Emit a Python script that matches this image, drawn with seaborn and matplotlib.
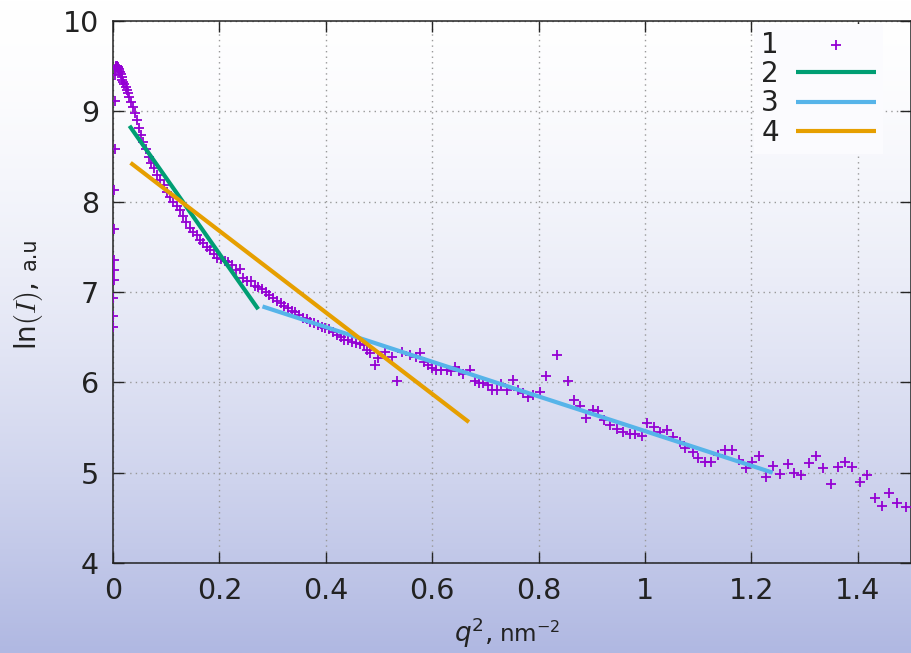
import numpy as np
import pandas as pd
import matplotlib
matplotlib.use("Agg")
import matplotlib.pyplot as plt
import seaborn as sns

# measured scattering curve (series 1)
q2 = [0.0003, 0.0006, 0.0009, 0.0012, 0.0015, 0.0018, 0.0022, 0.0026, 0.0030, 0.0035,
      0.0040, 0.0046, 0.0053, 0.0060, 0.0068, 0.0077, 0.0086, 0.0096, 0.0107, 0.0119,
      0.0132, 0.0146, 0.0161, 0.0177, 0.0195, 0.0215, 0.0236, 0.026, 0.0285, 0.031,
      0.034, 0.037, 0.041, 0.045, 0.049, 0.053, 0.057, 0.062, 0.067, 0.072,
      0.077, 0.083, 0.089, 0.095, 0.101, 0.107, 0.113, 0.120, 0.126, 0.132,
      0.138, 0.145, 0.151, 0.158, 0.164, 0.170, 0.177, 0.183, 0.189, 0.196,
      0.203, 0.210, 0.217, 0.224, 0.231, 0.238, 0.245, 0.252, 0.259, 0.266,
      0.273, 0.280, 0.287, 0.294, 0.301, 0.308, 0.315, 0.322, 0.329, 0.336,
      0.343, 0.350, 0.357, 0.364, 0.371, 0.378, 0.385, 0.392, 0.399, 0.406,
      0.414, 0.421, 0.428, 0.435, 0.442, 0.449, 0.457, 0.464, 0.471, 0.478,
      0.483, 0.492, 0.499, 0.511, 0.524, 0.533, 0.543, 0.558, 0.570, 0.577,
      0.585, 0.593, 0.600, 0.608, 0.616, 0.627, 0.635, 0.643, 0.650, 0.658,
      0.671, 0.680, 0.688, 0.696, 0.704, 0.712, 0.721, 0.730, 0.740, 0.751,
      0.762, 0.771, 0.781, 0.790, 0.803, 0.813, 0.834, 0.856, 0.867, 0.878,
      0.889, 0.902, 0.911, 0.922, 0.934, 0.947, 0.959, 0.972, 0.981, 0.994,
      1.003, 1.016, 1.028, 1.041, 1.053, 1.066, 1.075, 1.090, 1.100, 1.113,
      1.125, 1.138, 1.150, 1.164, 1.177, 1.190, 1.202, 1.215, 1.227, 1.241,
      1.254, 1.268, 1.281, 1.294, 1.308, 1.321, 1.335, 1.349, 1.362, 1.376,
      1.390, 1.404, 1.418, 1.432, 1.446, 1.459, 1.474, 1.490]
ln_i = [6.61, 6.73, 6.93, 7.13, 7.24, 7.35, 7.70, 8.13, 8.58, 9.11,
        9.40, 9.47, 9.49, 9.50, 9.50, 9.50, 9.49, 9.48, 9.47, 9.45,
        9.43, 9.41, 9.38, 9.35, 9.33, 9.30, 9.27, 9.24, 9.20, 9.16,
        9.10, 9.05, 8.98, 8.90, 8.82, 8.74, 8.66, 8.58, 8.50, 8.43,
        8.37, 8.30, 8.24, 8.19, 8.11, 8.05, 8.00, 7.95, 7.91, 7.84,
        7.78, 7.71, 7.66, 7.63, 7.58, 7.54, 7.50, 7.46, 7.42, 7.38,
        7.37, 7.34, 7.33, 7.30, 7.24, 7.25, 7.16, 7.12, 7.12, 7.07,
        7.05, 7.03, 7.00, 6.97, 6.93, 6.90, 6.88, 6.84, 6.82, 6.79,
        6.78, 6.74, 6.71, 6.70, 6.67, 6.66, 6.63, 6.61, 6.60, 6.59,
        6.56, 6.52, 6.50, 6.47, 6.47, 6.45, 6.43, 6.42, 6.41, 6.36,
        6.32, 6.19, 6.27, 6.34, 6.28, 6.01, 6.34, 6.30, 6.28, 6.32,
        6.23, 6.19, 6.16, 6.14, 6.14, 6.14, 6.13, 6.17, 6.12, 6.09,
        6.14, 6.01, 5.99, 5.99, 5.97, 5.91, 5.91, 5.98, 5.91, 6.03,
        5.91, 5.88, 5.84, 5.86, 5.89, 6.07, 6.30, 6.02, 5.80, 5.74,
        5.61, 5.69, 5.68, 5.58, 5.53, 5.48, 5.45, 5.43, 5.43, 5.41,
        5.55, 5.50, 5.45, 5.47, 5.40, 5.34, 5.27, 5.23, 5.16, 5.12,
        5.12, 5.20, 5.25, 5.25, 5.14, 5.05, 5.12, 5.18, 4.95, 5.07,
        4.99, 5.10, 5.00, 4.97, 5.11, 5.18, 5.05, 4.88, 5.06, 5.12,
        5.06, 4.90, 4.97, 4.72, 4.63, 4.77, 4.66, 4.62]

# linear fits (series 2, 3, 4): end points
fit2_q2, fit2_y = [0.031, 0.273], [8.84, 6.81]
fit3_q2, fit3_y = [0.281, 1.240], [6.84, 5.00]
fit4_q2, fit4_y = [0.033, 0.669], [8.43, 5.56]

xticks = [0, 0.2, 0.4, 0.6, 0.8, 1.0, 1.2, 1.4]
xtick_labels = ["0", "0.2", "0.4", "0.6", "0.8", "1", "1.2", "1.4"]
yticks = [4, 5, 6, 7, 8, 9, 10]

sns.set_style("ticks")
plt.rcParams["font.family"] = ["DejaVu Sans"]

W, H = 912, 653
fig = plt.figure(figsize=(W / 100, H / 100), dpi=100)

# background gradient white -> lavender
bg = fig.add_axes([0, 0, 1, 1], zorder=-10)
t = np.linspace(0, 1, 256) ** 1.6
top = np.array([255, 255, 255]) / 255
bot = np.array([176, 184, 226]) / 255
grad = top[None, :] * (1 - t[:, None]) + bot[None, :] * t[:, None]
bg.imshow(grad[:, None, :], aspect="auto", extent=[0, 1, 0, 1], origin="upper")
bg.axis("off")

ax = fig.add_axes([113 / W, 1 - 563 / H, 798 / W, 542 / H], zorder=1)
ax.set_facecolor("none")

df = pd.DataFrame({"q2": q2, "lnI": ln_i})
sns.scatterplot(data=df, x="q2", y="lnI", marker="+", s=45, color="#9400D3",
                linewidth=1.3, ax=ax, label="1", zorder=3)

fits = [(fit2_q2, fit2_y, "#009E73", "2"),
        (fit3_q2, fit3_y, "#56B4E9", "3"),
        (fit4_q2, fit4_y, "#E69F00", "4")]
for fx, fy, col, lab in fits:
    sns.lineplot(x=fx, y=fy, color=col, linewidth=3.0, ax=ax, label=lab,
                 zorder=4, solid_capstyle="butt")

ax.set_xlim(0, 1.5)
ax.set_ylim(4, 10)
ax.set_xticks(xticks)
ax.set_xticklabels(xtick_labels)
ax.set_yticks(yticks)
ax.set_xlabel("")
ax.set_ylabel("")
ax.tick_params(direction="in", length=8, width=1, top=True, right=True,
               labelsize=20.5, pad=10, labelcolor="#222222")
for sp in ax.spines.values():
    sp.set_visible(True)
    sp.set_color("#222222")
    sp.set_linewidth(1.1)
ax.grid(True, linestyle=(0, (1, 3)), color="#999999", linewidth=1)

leg = ax.legend(loc="upper right", bbox_to_anchor=(0.965, 0.995), markerfirst=False,
                fontsize=20, handlelength=2.9, labelspacing=0.05, handletextpad=0.6,
                borderpad=0.25, borderaxespad=0, frameon=True, fancybox=False,
                facecolor="#fbfbfe", edgecolor="none", framealpha=1)
for txt in leg.get_texts():
    txt.set_color("#222222")

# axis labels, in two sizes like the original
fig.text(492 / W, 1 - 642 / H, r"$q^2$,", fontsize=19, ha="right", va="baseline",
         color="#222222", math_fontfamily="dejavusans")
fig.text(499 / W, 1 - 642 / H, r"nm$^{-2}$", fontsize=16.5, ha="left", va="baseline",
         color="#222222", math_fontfamily="dejavusans")
fig.text(36 / W, 1 - 350 / H, r"ln$(I)$,", fontsize=20, rotation=90,
         rotation_mode="anchor", ha="left", va="baseline", color="#222222",
         math_fontfamily="cm")
fig.text(36 / W, 1 - 270 / H, "a.u", fontsize=15, rotation=90,
         rotation_mode="anchor", ha="left", va="baseline", color="#222222")

fig.savefig("out.png", dpi=100)
